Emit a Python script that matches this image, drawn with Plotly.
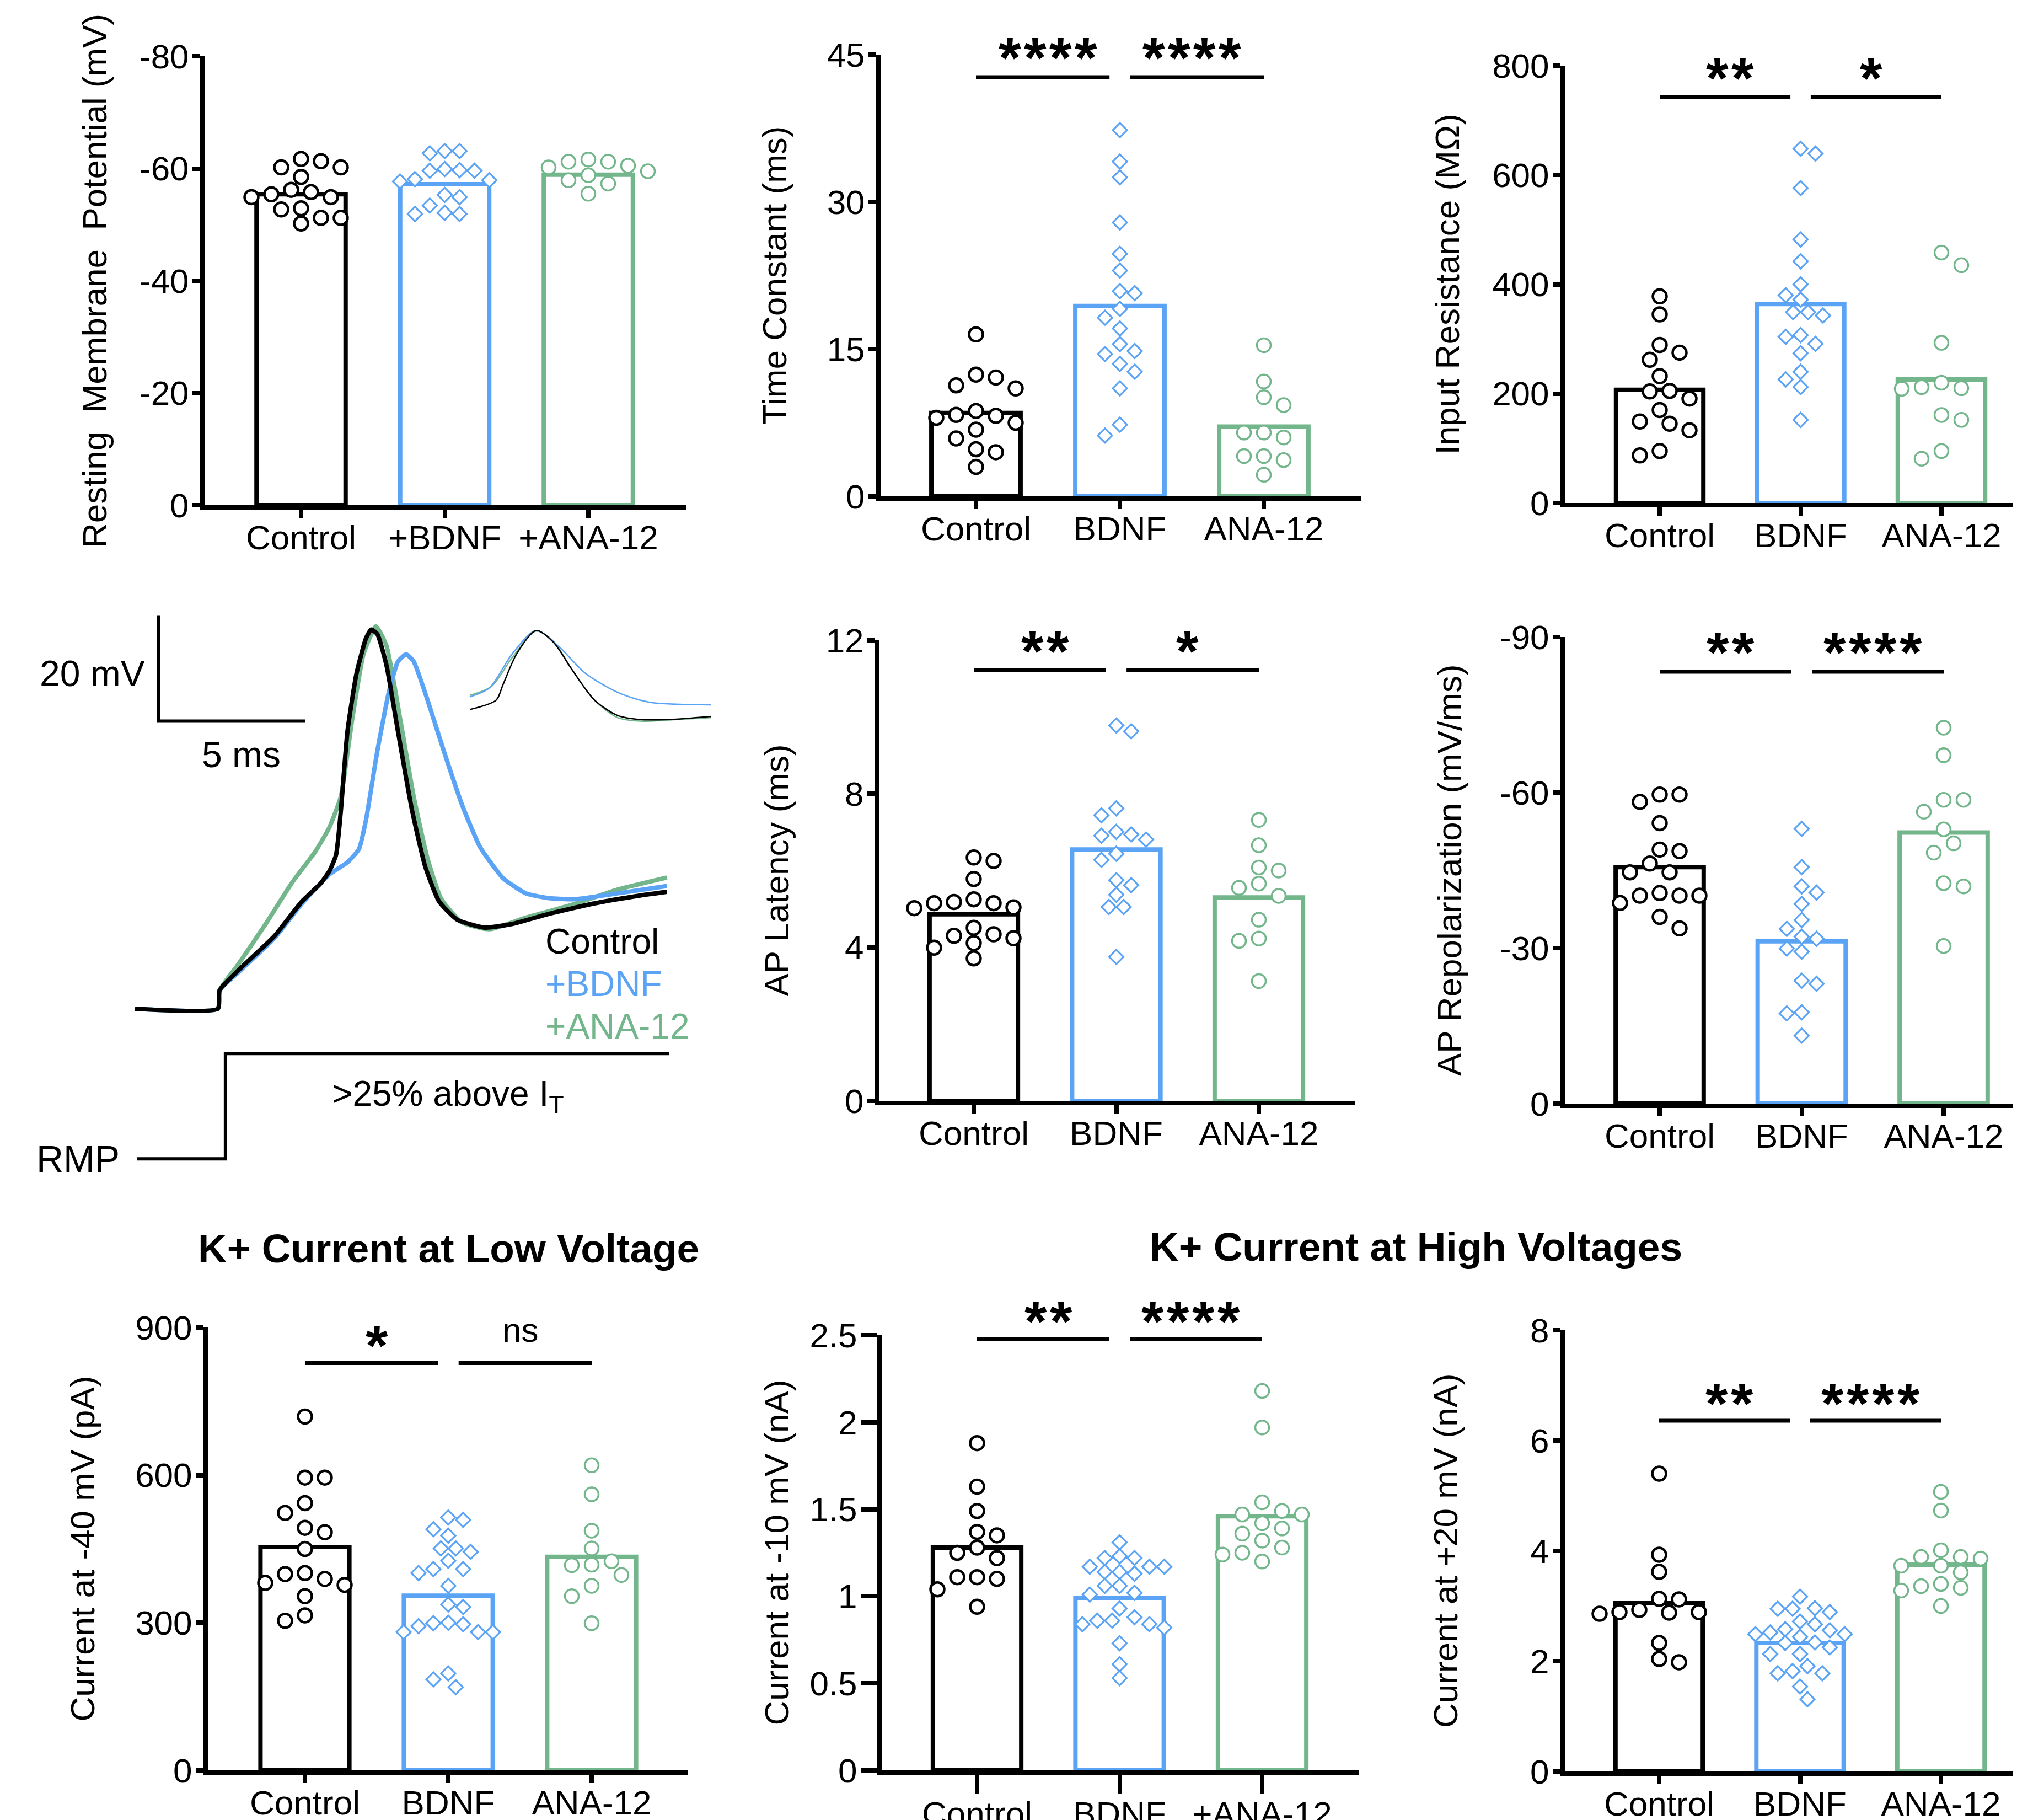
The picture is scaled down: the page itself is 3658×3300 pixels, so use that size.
import plotly.graph_objects as go

W, H = 3658, 3300          # target canvas (pixels)
OX, OY = 8, 8              # page body margin offset
FW, FH = W - OX, H - OY
FONT = "Liberation Sans, Arial, Helvetica, sans-serif"
BLACK, BLUE, GREEN = "#000000", "#5BA3F5", "#73B68C"
GROUP_COLORS = [BLACK, BLUE, GREEN]

# ---------------- categories / ticks ----------------
cats_plus = ["Control", "+BDNF", "+ANA-12"]
cats_plain = ["Control", "BDNF", "ANA-12"]
cats_mixed = ["Control", "BDNF", "+ANA-12"]

rmp_ticks = [0, -20, -40, -60, -80]
tau_ticks = [0, 15, 30, 45]
rin_ticks = [0, 200, 400, 600, 800]
lat_ticks = [0, 4, 8, 12]
rep_ticks = [0, -30, -60, -90]
low_ticks = [0, 300, 600, 900]
m10_ticks = [0, 0.5, 1, 1.5, 2, 2.5]
p20_ticks = [0, 2, 4, 6, 8]

# ---------------- data ----------------
rmp_control = [-60.2, -61.3, -58.5, -60.2, -61.7, -55.4, -56.2, -54.9, -54.9, -55.8, -52.7, -51.2, -51.2, -52.9, -50.2]
rmp_bdnf = [-63.1, -62.7, -63.1, -59.6, -59.9, -59.7, -59.6, -58.1, -57.9, -57.7, -54.9, -55.3, -53.4, -51.9, -51.9, -52.1]
rmp_ana = [-60.5, -61.6, -59.5, -61.2, -60.2, -61.2, -58.8, -57.3, -57.9, -55.5]
rmp_bar = [-55.4, -57.2, -58.9]

tau_control = [16.5, 12.1, 12.4, 11.0, 11.3, 8.2, 8.3, 8.7, 8.0, 7.5, 6.8, 5.9, 4.5, 4.8, 3.0]
tau_bdnf = [37.3, 34.1, 32.5, 27.9, 24.7, 23.0, 20.7, 20.9, 19.1, 18.2, 17.1, 15.5, 14.8, 14.5, 13.5, 12.7, 11.0, 7.3, 6.2]
tau_ana = [15.4, 11.7, 10.1, 9.3, 6.5, 6.0, 6.5, 4.1, 3.7, 4.1, 2.2]
tau_bar = [8.5, 19.4, 7.1]
tau_sig = ["****", "****"]

rin_control = [378, 345, 289, 262, 275, 232, 205, 204, 191, 170, 149, 145, 133, 95, 87]
rin_bdnf = [648, 639, 576, 482, 442, 400, 380, 372, 349, 349, 343, 304, 307, 291, 274, 240, 226, 212, 152]
rin_ana = [458, 435, 293, 220, 210, 212, 209, 152, 161, 95, 81]
rin_bar = [207, 364, 226]
rin_sig = ["**", "*"]

lat_control = [6.25, 6.34, 5.78, 5.18, 5.02, 5.04, 5.15, 5.15, 5.25, 4.51, 4.34, 4.30, 4.24, 4.11, 3.99, 3.71]
lat_bdnf = [9.78, 9.63, 7.62, 7.44, 6.91, 6.94, 7.01, 6.81, 6.28, 6.44, 5.75, 5.62, 5.37, 5.05, 5.05, 3.75]
lat_ana = [7.32, 6.66, 6.00, 6.08, 5.66, 5.55, 5.34, 4.72, 4.23, 4.17, 3.12]
lat_bar = [4.86, 6.55, 5.30]
lat_sig = ["**", "*"]

rep_control = [-59.6, -59.6, -58.2, -54.1, -48.7, -49.0, -46.3, -44.6, -44.6, -40.1, -40.1, -40.1, -40.6, -38.7, -36.0, -33.8]
rep_bdnf = [-53.0, -45.6, -41.9, -40.7, -38.5, -35.4, -33.7, -31.8, -32.2, -29.3, -29.9, -23.7, -23.1, -17.6, -17.4, -13.1]
rep_ana = [-72.5, -67.2, -58.6, -58.6, -56.3, -52.9, -50.2, -48.4, -42.5, -41.9, -30.4]
rep_bar = [-45.6, -31.3, -52.3]
rep_sig = ["**", "****"]

low_control = [719, 595, 595, 543, 523, 484, 493, 450, 389, 399, 401, 381, 377, 354, 304, 315]
low_bdnf = [514, 509, 490, 477, 451, 451, 444, 426, 409, 409, 401, 375, 337, 332, 300, 299, 293, 297, 281, 281, 281, 197, 185, 169]
low_ana = [620, 561, 487, 451, 425, 418, 417, 397, 375, 354, 299]
low_bar = [454, 355, 434]
low_sig = ["*", "ns"]

m10_control = [1.88, 1.63, 1.49, 1.35, 1.37, 1.28, 1.25, 1.22, 1.11, 1.10, 1.11, 1.04, 0.94]
m10_bdnf = [1.31, 1.22, 1.22, 1.23, 1.17, 1.17, 1.17, 1.13, 1.14, 1.14, 1.06, 1.06, 1.01, 1.02, 0.93, 0.88, 0.86, 0.86, 0.84, 0.84, 0.82, 0.73, 0.61, 0.53]
m10_ana = [2.18, 1.97, 1.54, 1.47, 1.47, 1.49, 1.42, 1.36, 1.39, 1.32, 1.28, 1.24, 1.25, 1.20]
m10_bar = [1.28, 0.99, 1.46]
m10_sig = ["**", "****"]

p20_control = [5.40, 3.93, 3.62, 3.12, 3.13, 2.86, 2.93, 2.89, 2.89, 2.88, 2.33, 1.98, 2.04]
p20_bdnf = [3.17, 2.96, 2.95, 2.89, 2.95, 2.72, 2.67, 2.56, 2.58, 2.52, 2.44, 2.49, 2.49, 2.34, 2.33, 2.25, 2.13, 2.13, 1.91, 1.78, 1.78, 1.82, 1.54, 1.31]
p20_ana = [5.07, 4.73, 4.01, 3.86, 3.89, 3.89, 3.73, 3.73, 3.61, 3.33, 3.40, 3.28, 3.36, 3.00]
p20_bar = [3.05, 2.33, 3.75]
p20_sig = ["**", "****"]

# action potential traces (ms, mV relative to baseline)
ap_t_control = [0, 2.82, 2.88, 3.50, 4.75, 5.69, 6.31, 6.62, 6.85, 7.01, 7.24, 7.55, 7.87, 8.05, 8.26, 8.57, 8.96, 9.43, 9.89, 10.36, 10.98, 11.92, 12.86, 14.10, 15.66, 17.22, 18.13]
ap_v_control = [0, 0, 3.5, 7.2, 13.8, 20.4, 23.7, 26.1, 29.2, 37.3, 52.7, 63.7, 70.3, 72.0, 71.1, 65.2, 52.7, 38.0, 27.0, 20.4, 16.9, 15.4, 16.1, 18.0, 20.0, 21.5, 22.2]
ap_t_bdnf = [0, 2.82, 2.88, 3.50, 4.75, 5.69, 6.62, 7.24, 7.63, 7.87, 8.26, 8.65, 8.96, 9.24, 9.50, 9.97, 10.52, 11.14, 11.76, 12.54, 13.32, 14.10, 15.04, 16.44, 18.13]
ap_v_bdnf = [0, 0, 3.5, 6.8, 13.4, 20.0, 25.5, 27.8, 30.3, 35.8, 49.0, 60.1, 65.9, 67.3, 65.9, 58.6, 49.0, 38.8, 30.7, 24.8, 21.9, 21.0, 20.8, 21.9, 23.3]
ap_t_ana = [0, 2.82, 2.88, 3.50, 4.44, 5.37, 6.15, 6.62, 7.01, 7.40, 7.79, 8.21, 8.57, 9.04, 9.50, 9.97, 10.44, 11.14, 12.08, 13.32, 14.88, 16.44, 18.13]
ap_v_ana = [0, 0, 3.5, 8.3, 16.0, 24.1, 29.9, 34.4, 40.2, 54.9, 67.4, 72.6, 68.9, 54.9, 40.2, 28.5, 20.8, 16.4, 15.1, 17.3, 19.7, 22.6, 24.9]

inset_t_control = [11.41, 12.31, 12.54, 13.01, 13.67, 14.26, 14.88, 15.66, 16.44, 17.22, 18.16, 19.64]
inset_v_control = [56.8, 58.6, 61.5, 67.4, 71.8, 69.6, 64.5, 58.6, 55.7, 54.9, 54.9, 55.5]
inset_t_bdnf = [11.41, 12.08, 12.86, 13.67, 14.42, 15.35, 16.44, 17.53, 19.64]
inset_v_bdnf = [59.2, 60.9, 67.4, 71.8, 68.9, 63.7, 60.1, 58.2, 57.7]
inset_t_ana = [11.41, 12.15, 12.86, 13.67, 14.26, 14.88, 15.66, 16.44, 17.22, 18.16, 19.64]
inset_v_ana = [59.5, 61.2, 66.7, 71.7, 69.8, 64.5, 58.6, 55.3, 54.6, 54.8, 55.3]

stim_t = [0.07, 3.08, 3.08, 18.2]
stim_v = [-28.5, -28.5, -8.5, -8.5]
scalebar_origin = (0.8, 54.6)
scalebar_ms, scalebar_mv = 5, 20
trace_labels = ["Control", "+BDNF", "+ANA-12"]

# ---------------- panel geometry (pixels on the target canvas) ----------------
panels = [
    dict(groups=(rmp_control, rmp_bdnf, rmp_ana), bars=rmp_bar, cats=cats_plus, yticks=rmp_ticks,
         yrange=(0, -80), ytitle="Resting\u00a0 Membrane\u00a0 Potential (mV)",
         box=(371, 1244, 102, 916), centers=(546, 1067), title_x=171, sig=None),
    dict(groups=(tau_control, tau_bdnf, tau_ana), bars=tau_bar, cats=cats_plain, yticks=tau_ticks,
         yrange=(0, 45), ytitle="Time Constant (ms)",
         box=(1597, 2468, 99, 900), centers=(1770, 2292), title_x=1404, sig=tau_sig, sig_line=42.7, sig_text=45.9),
    dict(groups=(rin_control, rin_bdnf, rin_ana), bars=rin_bar, cats=cats_plain, yticks=rin_ticks,
         yrange=(0, 800), ytitle="Input Resistance (M\u03a9)",
         box=(2838, 3658, 119, 912), centers=(3010, 3521), title_x=2624, sig=rin_sig, sig_line=743, sig_text=798.6),
    dict(groups=(lat_control, lat_bdnf, lat_ana), bars=lat_bar, cats=cats_plain, yticks=lat_ticks,
         yrange=(0, 12), ytitle="AP Latency (ms)",
         box=(1595, 2458, 1161, 1996), centers=(1766, 2283), title_x=1408, sig=lat_sig, sig_line=11.22, sig_text=12.03),
    dict(groups=(rep_control, rep_bdnf, rep_ana), bars=rep_bar, cats=cats_plain, yticks=rep_ticks,
         yrange=(0, -90), ytitle="AP Repolarization (mV/ms)",
         box=(2838, 3658, 1155, 2001), centers=(3010, 3525), title_x=2628, sig=rep_sig, sig_line=-83.3, sig_text=-89.4),
    dict(groups=(low_control, low_bdnf, low_ana), bars=low_bar, cats=cats_plain, yticks=low_ticks,
         yrange=(0, 900), ytitle="Current at -40 mV (pA)",
         box=(377, 1248, 2407, 3210), centers=(553, 1073), title_x=149, sig=low_sig, sig_line=827.8, sig_text=888),
    dict(groups=(m10_control, m10_bdnf, m10_ana), bars=m10_bar, cats=cats_mixed, yticks=m10_ticks,
         yrange=(0, 2.5), ytitle="Current at -10 mV (nA)", xticklen=35, yticklen=30,
         box=(1599, 2464, 2421, 3210), centers=(1772, 2289), title_x=1408, sig=m10_sig, sig_line=2.478, sig_text=2.649),
    dict(groups=(p20_control, p20_bdnf, p20_ana), bars=p20_bar, cats=cats_plain, yticks=p20_ticks,
         yrange=(0, 8), ytitle="Current at +20 mV (nA)",
         box=(2838, 3658, 2412, 3212), centers=(3009, 3520), title_x=2621, sig=p20_sig, sig_line=6.36, sig_text=6.89),
]

MARKERS = [
    dict(symbol="circle", size=25, lw=4.5, pitch=36, rowh=27),
    dict(symbol="diamond", size=20, lw=3.2, pitch=27, rowh=25),
    dict(symbol="circle", size=25, lw=3.5, pitch=36, rowh=27),
]


def fx(px):
    return (px - OX) / FW


def fy(py):
    return 1 - (py - OY) / FH


def fmt(v):
    return "%g" % v


def swarm_offsets(vals, px_per_unit, px_per_cat, pitch, rowh):
    """Scatter-dot layout: each point takes the nearest free slot on a half-pitch grid."""
    n = len(vals)
    order = sorted(range(n), key=lambda i: -abs(vals[i]))
    placed = []
    offs = [0.0] * n
    step = pitch / 2.0
    for i in order:
        y = abs(vals[i]) * px_per_unit
        chosen = None
        for k in range(0, 80):
            if k == 0:
                cands = [0.0]
            else:
                left = sum(1 for p in placed if p[0] < 0)
                right = sum(1 for p in placed if p[0] > 0)
                cands = [-k * step, k * step] if left < right else [k * step, -k * step]
            for c in cands:
                if all(((c - px) / pitch) ** 2 + ((y - py) / rowh) ** 2 >= 0.999 for px, py in placed):
                    chosen = c
                    break
            if chosen is not None:
                break
        placed.append((chosen, y))
        offs[i] = chosen / px_per_cat
    return offs


fig = go.Figure()
layout = dict(template="none", width=FW, height=FH, margin=dict(l=0, r=0, t=0, b=0, pad=0), autosize=False,
              paper_bgcolor="white", plot_bgcolor="white", showlegend=False,
              font=dict(family=FONT, color="black", size=62))
annotations, shapes = [], []

for idx, p in enumerate(panels, start=1):
    s = "" if idx == 1 else str(idx)
    xref, yref = "x" + s, "y" + s
    x0, x1, yt, yb = p["box"]
    x1 = min(x1, OX + FW)
    c0, c2 = p["centers"]
    sp = (c2 - c0) / 2.0
    r0, r1 = p["yrange"]
    layout["xaxis" + s] = dict(domain=[fx(x0), fx(x1)], range=[(x0 - c0) / sp, (x1 - c0) / sp], anchor=yref,
                               automargin=False,
                               showline=True, linewidth=8, linecolor="black", ticks="outside",
                               ticklen=p.get("xticklen", 15), tickwidth=8, tickcolor="black",
                               ticklabelstandoff=-17,
                               tickvals=[0, 1, 2], ticktext=p["cats"],
                               tickfont=dict(size=62, family=FONT, color="black"),
                               showgrid=False, zeroline=False, fixedrange=True)
    layout["yaxis" + s] = dict(domain=[fy(yb), fy(yt)], range=[r0, r1], anchor=xref, automargin=False,
                               showline=True, linewidth=8, linecolor="black", ticks="outside",
                               ticklen=p.get("yticklen", 14), tickwidth=8, tickcolor="black",
                               ticklabelstandoff=-6,
                               tickvals=p["yticks"], ticktext=[fmt(v) for v in p["yticks"]],
                               tickfont=dict(size=62, family=FONT, color="black"),
                               showgrid=False, zeroline=False, fixedrange=True)
    # bars
    fig.add_trace(go.Bar(x=[0, 1, 2], y=p["bars"], width=0.62, xaxis=xref, yaxis=yref,
                         marker=dict(color="rgba(0,0,0,0)", line=dict(color=GROUP_COLORS, width=8))))
    # points
    px_per_unit = (yb - yt) / abs(r1 - r0)
    for g, vals in enumerate(p["groups"]):
        m = MARKERS[g]
        offs = swarm_offsets(vals, px_per_unit, sp, m["pitch"], m["rowh"])
        fig.add_trace(go.Scatter(x=[g + o for o in offs], y=vals, mode="markers", xaxis=xref, yaxis=yref,
                                 cliponaxis=False,
                                 marker=dict(symbol=m["symbol"], size=m["size"], color="white",
                                             line=dict(color=GROUP_COLORS[g], width=m["lw"]))))
    # y title
    annotations.append(dict(text=p["ytitle"], xref="paper", yref="paper", x=fx(p["title_x"]),
                            y=fy((yt + yb) / 2), textangle=-90, showarrow=False,
                            xanchor="center", yanchor="middle", font=dict(size=62, family=FONT)))
    # significance
    if p["sig"]:
        def ypx(v):
            return yb - (v - r0) / (r1 - r0) * (yb - yt)
        gap = 0.072
        ly = fy(ypx(p["sig_line"]))
        ty = fy(ypx(p["sig_text"]))
        for j, lab in enumerate(p["sig"]):
            a = j + (0 if j == 0 else gap)
            b = j + 1 - (gap if j == 0 else 0)
            shapes.append(dict(type="line", xref="paper", yref="paper",
                               x0=fx(c0 + a * sp), x1=fx(c0 + b * sp), y0=ly, y1=ly,
                               line=dict(color="black", width=7)))
            cxp = c0 + (j + 0.5) * sp
            if set(lab) == {"*"}:
                n = len(lab)
                for k in range(n):
                    annotations.append(dict(text="<b>*</b>", xref="paper", yref="paper",
                                            x=fx(cxp + (k - (n - 1) / 2) * 46), y=ty, yshift=-22,
                                            showarrow=False, xanchor="center", yanchor="middle",
                                            font=dict(size=104, family=FONT)))
            else:
                annotations.append(dict(text=lab, xref="paper", yref="paper", x=fx(cxp), y=ty, yshift=6,
                                        showarrow=False, xanchor="center", yanchor="middle",
                                        font=dict(size=62, family=FONT)))

# ---------------- section titles ----------------
annotations.append(dict(text="<b>K+ Current at Low Voltage</b>", xref="paper", yref="paper",
                        x=fx(813), y=fy(2263), showarrow=False, xanchor="center", yanchor="middle",
                        font=dict(size=73, family=FONT)))
annotations.append(dict(text="<b>K+ Current at High Voltages</b>", xref="paper", yref="paper",
                        x=fx(2568), y=fy(2260), showarrow=False, xanchor="center", yanchor="middle",
                        font=dict(size=73, family=FONT)))

# ---------------- action potential panel ----------------
tx, ty_ = "x9", "y9"
layout["xaxis9"] = dict(domain=[fx(OX), fx(1300)], range=[(OX - 245) / 53.2, (1300 - 245) / 53.2],
                        visible=False, anchor=ty_, fixedrange=True, automargin=False)
layout["yaxis9"] = dict(domain=[fy(2180), fy(1080)], range=[-36.75, 78.43], visible=False, anchor=tx,
                        fixedrange=True, automargin=False)

for t, v, col, w in [(ap_t_ana, ap_v_ana, GREEN, 8), (ap_t_bdnf, ap_v_bdnf, BLUE, 8), (ap_t_control, ap_v_control, BLACK, 8)]:
    fig.add_trace(go.Scatter(x=t, y=v, mode="lines", xaxis=tx, yaxis=ty_,
                             line=dict(color=col, width=w, shape="spline", smoothing=0.5)))
for t, v, col in [(inset_t_ana, inset_v_ana, GREEN), (inset_t_bdnf, inset_v_bdnf, BLUE), (inset_t_control, inset_v_control, BLACK)]:
    fig.add_trace(go.Scatter(x=t, y=v, mode="lines", xaxis=tx, yaxis=ty_,
                             line=dict(color=col, width=2.5, shape="spline", smoothing=0.8)))
fig.add_trace(go.Scatter(x=stim_t, y=stim_v, mode="lines", xaxis=tx, yaxis=ty_,
                         line=dict(color="black", width=6)))
sx0, sy0 = scalebar_origin
fig.add_trace(go.Scatter(x=[sx0, sx0, sx0 + scalebar_ms], y=[sy0 + scalebar_mv, sy0, sy0], mode="lines",
                         xaxis=tx, yaxis=ty_, line=dict(color="black", width=6)))

annotations += [
    dict(text="%d mV" % scalebar_mv, xref=tx, yref=ty_, x=sx0 - 0.42, y=63.7, xanchor="right", yanchor="middle",
         showarrow=False, font=dict(size=66, family=FONT)),
    dict(text="%d ms" % scalebar_ms, xref=tx, yref=ty_, x=3.61, y=48.3, xanchor="center", yanchor="middle",
         showarrow=False, font=dict(size=66, family=FONT)),
    dict(text="RMP", xref=tx, yref=ty_, x=-1.95, y=-28.5, xanchor="center", yanchor="middle",
         showarrow=False, font=dict(size=68, family=FONT)),
    dict(text=">25% above I<sub>T</sub>", xref=tx, yref=ty_, x=10.67, y=-16.5, xanchor="center", yanchor="middle",
         showarrow=False, font=dict(size=64, family=FONT)),
]
for lab, col, yv in zip(trace_labels, GROUP_COLORS, [12.8, 4.75, -3.3]):
    annotations.append(dict(text=lab, xref=tx, yref=ty_, x=13.95, y=yv, xanchor="left", yanchor="middle",
                            showarrow=False, font=dict(size=64, family=FONT, color=col)))

layout["annotations"] = annotations
layout["shapes"] = shapes
fig.update_layout(**layout)
fig.write_html("out.html")
